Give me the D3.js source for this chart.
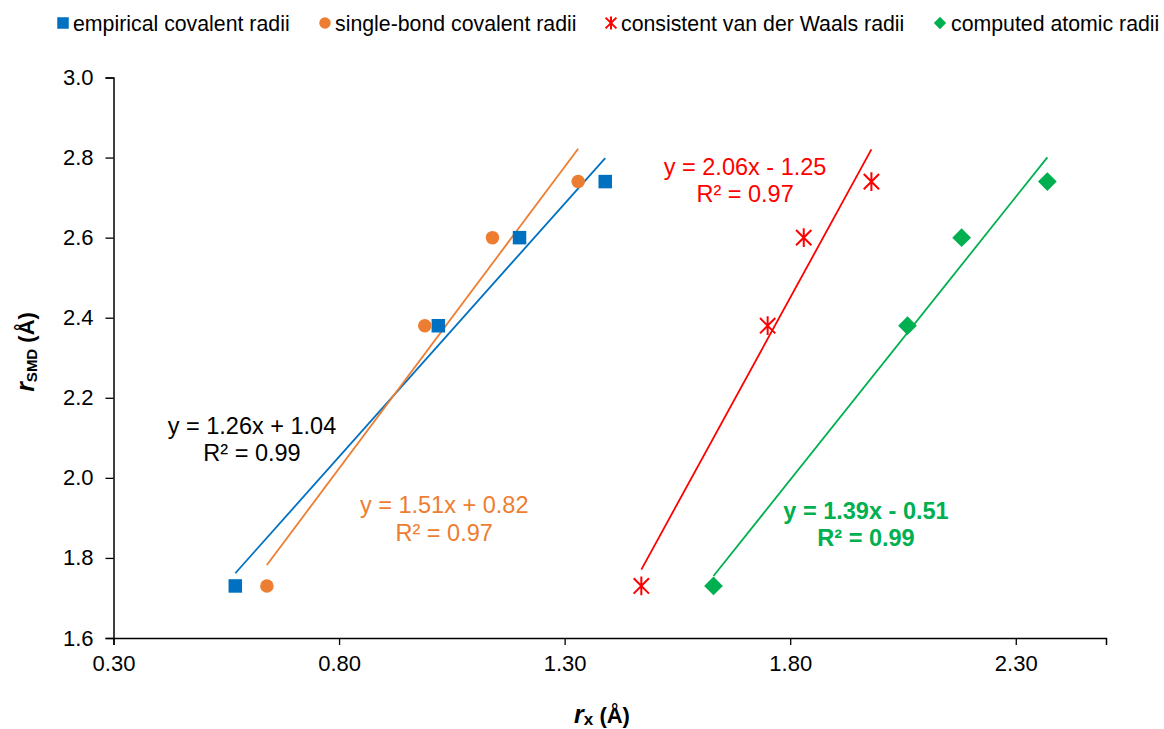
<!DOCTYPE html>
<html>
<head>
<meta charset="utf-8">
<script src="https://cdn.jsdelivr.net/npm/d3@7"></script>
<style>
  body { margin: 0; background: #fff; }
  text { font-family: "Liberation Sans", Arial, sans-serif; }
</style>
</head>
<body>
<div id="plot"></div>
<script>
// r_SMD values (same for every series)
var rSMD = [1.73, 2.38, 2.60, 2.74];

var empirical = [0.57, 1.02, 1.20, 1.39];
var singleBond = [0.64, 0.99, 1.14, 1.33];
var vdw = [1.47, 1.75, 1.83, 1.98];
var computed = [1.63, 2.06, 2.18, 2.37];

var seriesNames = ['empirical covalent radii', 'single-bond covalent radii',
    'consistent van der Waals radii', 'computed atomic radii'];
var seriesColors = ['#0070C0', '#ED7D31', '#FF0000', '#00B050'];
var seriesX = [empirical, singleBond, vdw, computed];

var eqLines = [
    ['y = 1.26x + 1.04', 'R\u00b2 = 0.99'],
    ['y = 1.51x + 0.82', 'R\u00b2 = 0.97'],
    ['y = 2.06x - 1.25', 'R\u00b2 = 0.97'],
    ['y = 1.39x - 0.51', 'R\u00b2 = 0.99']
];
// label anchors in data units
var eqAt = [[0.607, 2.11], [1.033, 1.911], [1.70, 2.7575], [1.968, 1.8975]];
var eqColors = ['#000000', '#ED7D31', '#FF0000', '#00B050'];

var xTicks = [0.30, 0.80, 1.30, 1.80, 2.30];
var yTicks = [1.6, 1.8, 2.0, 2.2, 2.4, 2.6, 2.8, 3.0];

var svg = d3.select('#plot')
    .append('svg')
    .attr('width', 1164)
    .attr('height', 729);

var x = d3.scaleLinear().domain([0.3, 2.5]).range([113.5, 1106]);
var y = d3.scaleLinear().domain([1.6, 3.0]).range([638, 77.5]);

// axes
var xAxis = svg.append('g')
    .attr('transform', 'translate(0,638)')
    .call(d3.axisBottom(x).tickValues(xTicks).tickFormat(d3.format('.2f')).tickSizeOuter(0).tickSize(7).tickPadding(10));
var yAxis = svg.append('g')
    .attr('transform', 'translate(113.5,0)')
    .call(d3.axisLeft(y).tickValues(yTicks).tickFormat(d3.format('.1f')).tickSizeOuter(0).tickSize(8).tickPadding(12));

[xAxis, yAxis].forEach(function (g) {
    g.select('.domain').attr('stroke', '#000').attr('stroke-width', 1.5);
    g.selectAll('.tick line').attr('stroke', '#000').attr('stroke-width', 1.3);
    g.selectAll('.tick text')
        .attr('fill', '#000')
        .style('font-size', '22px')
        .style('font-family', '"Liberation Sans", Arial, sans-serif');
});

// least squares fit
function fit(xs, ys) {
    var mx = d3.mean(xs), my = d3.mean(ys);
    var sxy = d3.sum(xs, function (v, i) { return (v - mx) * (ys[i] - my); });
    var sxx = d3.sum(xs, function (v) { return (v - mx) * (v - mx); });
    var b = sxy / sxx;
    return { slope: b, icpt: my - b * mx };
}

var line = d3.line()
    .x(function (d) { return x(d[0]); })
    .y(function (d) { return y(d[1]); });

seriesX.forEach(function (xs, i) {
    var f = fit(xs, rSMD);
    var ext = d3.extent(xs);
    svg.append('path')
        .attr('d', line(ext.map(function (v) { return [v, f.slope * v + f.icpt]; })))
        .attr('stroke', seriesColors[i])
        .attr('stroke-width', 1.8)
        .attr('fill', 'none');
});

// markers
var asterisk = function (s) {
    var a = s * 0.45, v = s * 0.55;
    return 'M' + (-a) + ',' + (-a) + 'L' + a + ',' + a +
        'M' + (-a) + ',' + a + 'L' + a + ',' + (-a) +
        'M0,' + (-v) + 'L0,' + v;
};

function drawMarker(g, i, s) {
    if (i === 0) {
        g.append('rect').attr('x', -s / 2).attr('y', -s / 2).attr('width', s).attr('height', s)
            .attr('fill', seriesColors[i]);
    } else if (i === 1) {
        g.append('circle').attr('r', s / 2).attr('fill', seriesColors[i]);
    } else if (i === 2) {
        g.append('path').attr('d', asterisk(s)).attr('stroke', seriesColors[i])
            .attr('stroke-width', 2).attr('fill', 'none');
    } else {
        g.append('path').attr('d', d3.symbol(d3.symbolDiamond2, s * s * 0.62)())
            .attr('fill', seriesColors[i]);
    }
}

var markerSize = [13.5, 13.5, 17, 19];
seriesX.forEach(function (xs, i) {
    xs.forEach(function (v, j) {
        var g = svg.append('g').attr('transform', 'translate(' + x(v) + ',' + y(rSMD[j]) + ')');
        drawMarker(g, i, markerSize[i]);
    });
});

// equation labels
eqLines.forEach(function (lines, i) {
    var t = svg.append('text')
        .attr('text-anchor', 'middle')
        .attr('fill', eqColors[i])
        .style('font-size', '23.5px')
        .style('font-weight', i === 3 ? 'bold' : 'normal');
    lines.forEach(function (s, k) {
        t.append('tspan')
            .attr('x', x(eqAt[i][0]))
            .attr('y', y(eqAt[i][1]) + k * 27.5)
            .text(s);
    });
});

// legend
var legendX = [63, 325, 611, 940];
var legendTextX = [73, 335, 621, 951];
var legendSize = [11.5, 11.5, 12, 12.5];
seriesNames.forEach(function (name, i) {
    var g = svg.append('g').attr('transform', 'translate(' + legendX[i] + ',23)');
    drawMarker(g, i, legendSize[i]);
    svg.append('text')
        .attr('x', legendTextX[i])
        .attr('y', 30.5)
        .attr('fill', '#000')
        .style('font-size', '21.3px')
        .text(name);
});

// axis titles
var xt = svg.append('text')
    .attr('x', 602)
    .attr('y', 723)
    .attr('text-anchor', 'middle')
    .style('font-size', '22px')
    .style('font-weight', 'bold');
xt.append('tspan').style('font-style', 'italic').style('font-size', '25px').text('r');
xt.append('tspan').attr('dy', 2).style('font-size', '17px').text('x');
xt.append('tspan').attr('dy', -2).text(' (\u00c5)');

var yt = svg.append('text')
    .attr('transform', 'translate(34,352) rotate(-90)')
    .attr('text-anchor', 'middle')
    .style('font-size', '22px')
    .style('font-weight', 'bold');
yt.append('tspan').style('font-style', 'italic').style('font-size', '25px').text('r');
yt.append('tspan').attr('dy', 3).style('font-size', '15px').text('SMD');
yt.append('tspan').attr('dy', -3).text(' (\u00c5)');
</script>
</body>
</html>
